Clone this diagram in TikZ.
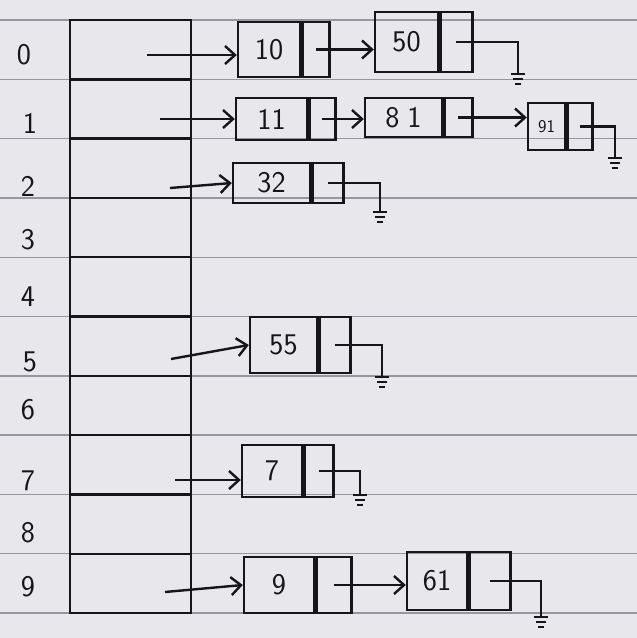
\documentclass[tikz,border=0pt]{standalone}
\usetikzlibrary{arrows.meta}
\definecolor{paper}{RGB}{231,231,236}
\definecolor{rulec}{RGB}{150,150,158}
\definecolor{ink}{RGB}{22,22,26}
\begin{document}
\begin{tikzpicture}[x=1pt,y=-1pt,
  every node/.style={font=\sffamily\fontsize{30}{30}\selectfont, text=ink},
  slot/.style={draw=ink, line width=2.4pt, minimum width=121pt, minimum height=59.3pt, inner sep=0pt},
  val/.style={draw=ink, line width=2.4pt, inner sep=0pt},
  ptr/.style={draw=ink, line width=2.4pt, inner sep=0pt, anchor=west},
  arr/.style={draw=ink, line width=2.4pt, -{Straight Barb[length=10pt,width=18pt,line width=2.4pt]}},
  link/.style={draw=ink, line width=2.4pt},
  gnd/.pic={\draw[ink, line width=2pt] (-7,0)--(7,0) (-5,5)--(5,5) (-3,10)--(3,10);}]
\useasboundingbox (0,0) rectangle (637,638);
\fill[paper] (0,0) rectangle (637,638);
% ruled paper lines
\foreach \k in {0,...,10}
  \draw[rulec, line width=1.4pt] (0,20+59.3*\k) -- (637,20+59.3*\k);

% hash table slots
\foreach \i in {0,...,9}
  \node[slot] (s\i) at (130.5,{20+59.3*(\i+0.5)}) {};

% index labels
\node (l0) at (24,55) {0};
\node (l1) at (30,123) {1};
\node (l2) at (28,186) {2};
\node (l3) at (28,240) {3};
\node (l4) at (28,297) {4};
\node (l5) at (30,362) {5};
\node (l6) at (28,410) {6};
\node (l7) at (28,481) {7};
\node (l8) at (28,533) {8};
\node (l9) at (28,587) {9};

% row 0: 10 -> 50
\node[val, minimum width=62pt, minimum height=55pt] (n10) at (269,49.5) {10};
\node[ptr, minimum width=27pt, minimum height=55pt] (n10p) at (n10.east) {};
\node[val, minimum width=63pt, minimum height=60pt] (n50) at (406.5,42) {50};
\node[ptr, minimum width=32pt, minimum height=60pt] (n50p) at (n50.east) {};
\coordinate (a0) at (147,55);
\draw[arr] (a0) -- (a0 -| n10.west);
\draw[arr] (n10p.center) -- (n10p.center -| n50.west);
\coordinate (g0) at (518,74);
\draw[link] (n50p.center) -| (g0);
\pic at (g0) {gnd};

% row 1: 11 -> 81 -> 91
\node[val, minimum width=71pt, minimum height=42pt] (n11) at (271.5,119) {11};
\node[ptr, minimum width=26pt, minimum height=42pt] (n11p) at (n11.east) {};
\node[val, minimum width=77pt, minimum height=39pt] (n81) at (403.5,117.5) {8\hspace{8pt}1};
\node[ptr, minimum width=28pt, minimum height=39pt] (n81p) at (n81.east) {};
\node[val, minimum width=37pt, minimum height=47pt, font=\sffamily\fontsize{18}{18}\selectfont] (n91) at (546.5,126.5) {91};
\node[ptr, minimum width=25pt, minimum height=47pt] (n91p) at (n91.east) {};
\coordinate (a1) at (160,119);
\draw[arr] (a1) -- (a1 -| n11.west);
\draw[arr] (n11p.center) -- (n11p.center -| n81.west);
\draw[arr] (n81p.center) -- (n81p.center -| n91.west);
\coordinate (g1) at (615,158);
\draw[link] (n91p.center) -| (g1);
\pic at (g1) {gnd};

% row 2: 32
\node[val, minimum width=77pt, minimum height=40pt] (n32) at (271.5,183) {32};
\node[ptr, minimum width=31pt, minimum height=40pt] (n32p) at (n32.east) {};
\coordinate (a2) at (170,188);
\draw[arr] (a2) -- (n32.west);
\coordinate (g2) at (380,212);
\draw[link] (n32p.center) -| (g2);
\pic at (g2) {gnd};

% row 5: 55
\node[val, minimum width=67pt, minimum height=56pt] (n55) at (283.5,345) {55};
\node[ptr, minimum width=31pt, minimum height=56pt] (n55p) at (n55.east) {};
\coordinate (a5) at (171,359);
\draw[arr] (a5) -- (n55.west);
\coordinate (g5) at (382,377);
\draw[link] (n55p.center) -| (g5);
\pic at (g5) {gnd};

% row 7: 7
\node[val, minimum width=60pt, minimum height=52pt] (n7) at (272,471) {7};
\node[ptr, minimum width=29pt, minimum height=52pt] (n7p) at (n7.east) {};
\coordinate (a7) at (175,480);
\draw[arr] (a7) -- (a7 -| n7.west);
\coordinate (g7) at (360,495);
\draw[link] (n7p.center) -| (g7);
\pic at (g7) {gnd};

% row 9: 9 -> 61
\node[val, minimum width=70pt, minimum height=56pt] (n9) at (279,585) {9};
\node[ptr, minimum width=35pt, minimum height=56pt] (n9p) at (n9.east) {};
\node[val, minimum width=60pt, minimum height=58pt] (n61) at (437,581) {61};
\node[ptr, minimum width=41pt, minimum height=58pt] (n61p) at (n61.east) {};
\coordinate (a9) at (165,592);
\draw[arr] (a9) -- (n9.west);
\draw[arr] (n9p.center) -- (n9p.center -| n61.west);
\coordinate (g9) at (541,617);
\draw[link] (n61p.center) -| (g9);
\pic at (g9) {gnd};
\end{tikzpicture}
\end{document}
